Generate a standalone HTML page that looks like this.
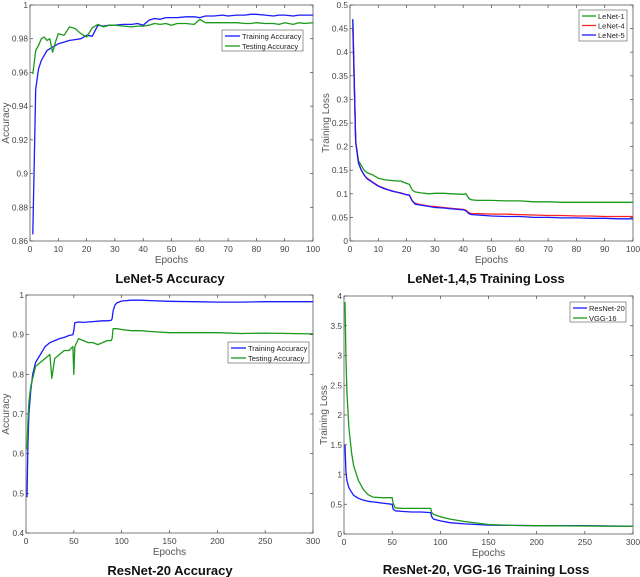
<!DOCTYPE html>
<html><head><meta charset="utf-8"><style>
body{margin:0;background:#fff;width:640px;height:577px;overflow:hidden;font-family:"Liberation Sans",sans-serif}
svg{position:absolute;left:0;top:0}
</style></head><body>
<svg id="fig" width="640" height="577"></svg>
<script>
// Panel A: LeNet-5 accuracy
const aEpochs=[1,2,3,4,5,6,7,8,9,10,12,14,16,18,20,22,24,26,28,30,33,36,38,40,42,44,46,48,50,52,55,58,60,62,65,68,70,73,76,78,80,83,86,88,90,93,95,97,100];
const aTrain=[0.864,0.95,0.962,0.967,0.970,0.973,0.974,0.975,0.976,0.977,0.978,0.979,0.9795,0.980,0.982,0.9815,0.988,0.9875,0.988,0.988,0.9885,0.9885,0.989,0.988,0.991,0.992,0.9915,0.9925,0.9925,0.9925,0.993,0.993,0.9925,0.9935,0.9935,0.994,0.9935,0.994,0.994,0.9945,0.9945,0.994,0.9935,0.994,0.994,0.9935,0.994,0.994,0.994];
const aTest=[0.959,0.973,0.976,0.980,0.981,0.979,0.980,0.972,0.978,0.983,0.982,0.987,0.986,0.983,0.981,0.9865,0.9885,0.987,0.988,0.988,0.9875,0.987,0.9875,0.9875,0.988,0.989,0.9885,0.989,0.988,0.989,0.989,0.9885,0.9915,0.9895,0.9895,0.9895,0.9895,0.9895,0.989,0.989,0.9895,0.989,0.989,0.9885,0.9895,0.9885,0.9895,0.989,0.9895];
const aYTicks=["0.86","0.88","0.9","0.92","0.94","0.96","0.98","1"];
const aXTicks=["0","10","20","30","40","50","60","70","80","90","100"];
// Panel B: LeNet losses
const bEpochs=[1,2,3,4,5,6,8,10,12,15,18,20,21,22,23,25,28,30,33,36,40,41,42,43,45,50,55,60,65,70,75,80,85,90,95,100];
const bLeNet1=[0.47,0.21,0.17,0.16,0.15,0.145,0.14,0.133,0.13,0.128,0.127,0.122,0.12,0.108,0.104,0.102,0.100,0.101,0.101,0.100,0.099,0.100,0.090,0.087,0.086,0.086,0.085,0.085,0.083,0.083,0.082,0.082,0.082,0.082,0.082,0.082];
const bLeNet4=[0.45,0.21,0.165,0.15,0.14,0.133,0.125,0.117,0.112,0.105,0.102,0.098,0.097,0.085,0.08,0.077,0.074,0.073,0.071,0.069,0.067,0.065,0.060,0.058,0.058,0.057,0.057,0.056,0.055,0.054,0.054,0.053,0.053,0.052,0.052,0.052];
const bLeNet5=[0.47,0.21,0.165,0.15,0.14,0.132,0.124,0.116,0.111,0.106,0.101,0.098,0.097,0.085,0.078,0.076,0.073,0.071,0.070,0.068,0.066,0.064,0.058,0.056,0.055,0.053,0.052,0.052,0.050,0.050,0.049,0.049,0.048,0.048,0.047,0.047];
const bYTicks=["0","0.05","0.1","0.15","0.2","0.25","0.3","0.35","0.4","0.45","0.5"];
// Panel C: ResNet-20 accuracy
const cEpochs=[1,2,3,5,7,10,15,20,25,27,30,35,40,45,49,50,51,55,60,65,70,75,80,85,89,90,91,93,95,100,110,120,130,150,175,200,225,250,275,300];
const cTrain=[0.49,0.62,0.70,0.76,0.80,0.83,0.85,0.87,0.88,0.882,0.885,0.89,0.893,0.898,0.90,0.91,0.93,0.932,0.931,0.932,0.933,0.934,0.935,0.935,0.936,0.94,0.96,0.975,0.980,0.985,0.987,0.987,0.986,0.984,0.983,0.982,0.982,0.983,0.983,0.983];
const cTest=[0.61,0.68,0.73,0.77,0.79,0.82,0.83,0.84,0.85,0.79,0.84,0.85,0.86,0.86,0.87,0.80,0.87,0.89,0.885,0.88,0.88,0.875,0.88,0.885,0.885,0.89,0.915,0.915,0.915,0.913,0.91,0.91,0.908,0.905,0.905,0.905,0.903,0.904,0.903,0.902];
const cYTicks=["0.4","0.5","0.6","0.7","0.8","0.9","1"];
const cXTicks=["0","50","100","150","200","250","300"];
// Panel D: ResNet-20 / VGG-16 loss
const dEpochs=[1,2,3,5,8,10,15,20,25,30,40,50,51,53,60,70,80,90,91,93,100,110,125,150,175,200,250,300];
const dResNet=[1.5,1.05,0.9,0.78,0.7,0.65,0.6,0.57,0.55,0.54,0.52,0.50,0.42,0.39,0.38,0.37,0.37,0.36,0.29,0.25,0.22,0.19,0.17,0.15,0.145,0.14,0.14,0.13];
const dVGG=[3.9,3.0,2.4,1.8,1.35,1.15,0.9,0.75,0.66,0.62,0.61,0.61,0.52,0.44,0.43,0.43,0.43,0.43,0.36,0.33,0.29,0.25,0.21,0.16,0.145,0.14,0.135,0.13];
const dYTicks=["0","0.5","1","1.5","2","2.5","3","3.5","4"];

const NS="http://www.w3.org/2000/svg";
const svg=document.getElementById('fig');
function mk(tag,attrs,parent,text){const e=document.createElementNS(NS,tag);for(const k in attrs)e.setAttribute(k,attrs[k]);if(text!==undefined)e.textContent=text;(parent||svg).appendChild(e);return e;}

function panel(p){
  const g=mk('g',{});
  
  
  const sx=v=>p.x0+(v-p.xmin)/(p.xmax-p.xmin)*(p.x1-p.x0);
  const sy=v=>p.y1-(v-p.ymin)/(p.ymax-p.ymin)*(p.y1-p.y0);
  const box=mk('rect',{x:p.x0,y:p.y0,width:p.x1-p.x0,height:p.y1-p.y0,fill:'#fff',stroke:'#444','stroke-width':0.7},g);
  
  
  p.yt.forEach(t=>{const v=parseFloat(t),y=sy(v);
    mk('line',{x1:p.x0,x2:p.x0+3,y1:y,y2:y,stroke:'#444','stroke-width':0.7},g);
    mk('line',{x1:p.x1,x2:p.x1-3,y1:y,y2:y,stroke:'#444','stroke-width':0.7},g);
    const tx=mk('text',{x:p.x0-2,y:y+3,'font-size':8.3,fill:'#444','text-anchor':'end'},g,t);
    
    
  });
  p.xt.forEach(t=>{const v=parseFloat(t),x=sx(v);
    mk('line',{x1:x,x2:x,y1:p.y1,y2:p.y1-3,stroke:'#444','stroke-width':0.7},g);
    mk('line',{x1:x,x2:x,y1:p.y0,y2:p.y0+3,stroke:'#444','stroke-width':0.7},g);
    const tx=mk('text',{x:x,y:p.y1+11,'font-size':8.5,fill:'#444','text-anchor':'middle'},g,t);
    
    
  });
  const xl=mk('text',{x:(p.x0+p.x1)/2,y:p.y1+22,'font-size':10,fill:'#555','text-anchor':'middle'},g,'Epochs');
  
  
  const yx=p.x0-p.ylOff, yy=(p.y0+p.y1)/2;
  const yl=mk('text',{x:yx,y:yy,'font-size':10,fill:'#555','text-anchor':'middle',transform:`rotate(-90 ${yx} ${yy})`},g,p.ylabel);
  
  
  const ti=mk('text',{x:p.tx,y:p.ty,'font-size':13,'font-weight':'bold',fill:'#111','text-anchor':'middle'},g,p.title);
  
  
  p.series.forEach(s=>{
    const n=Math.min(p.xs.length,s.v.length);
    let d='';for(let i=0;i<n;i++)d+=(i?'L':'M')+sx(p.xs[i]).toFixed(1)+','+sy(s.v[i]).toFixed(1);
    const pl=mk('path',{d:d,fill:'none',stroke:s.c,'stroke-width':1.3,'stroke-linejoin':'round'},g);
    
    
  });
  const L=p.leg;
  const lg=mk('g',{},g);
  
  
  mk('rect',{x:L.x,y:L.y,width:L.w,height:L.h,fill:'#fff',stroke:'#555','stroke-width':0.6},lg);
  p.series.forEach((s,i)=>{const yy=L.y+6+i*L.dy;
    mk('line',{x1:L.x+3,x2:L.x+L.lw,y1:yy,y2:yy,stroke:s.c,'stroke-width':1.3},lg);
    const t=mk('text',{x:L.x+L.lw+2,y:yy+3,'font-size':L.fs,fill:'#222'},lg,s.label);
    
    
  });
}
const B='#1a1aff',G='#1a9a1a',R='#ff2020';
panel({name:'lenet5-accuracy-chart',x0:30,x1:313,y0:5,y1:241,xmin:0,xmax:100,ymin:0.86,ymax:1,yt:aYTicks,xt:aXTicks,xs:aEpochs,
  series:[{v:aTrain,c:B,label:'Training Accuracy'},{v:aTest,c:G,label:'Testing Accuracy'}],ylabel:'Accuracy',ylOff:21,
  title:'LeNet-5 Accuracy',tx:170,ty:283,leg:{x:222,y:30,w:81,h:21,dy:10,lw:18,fs:7.5}});
panel({name:'lenet-loss-chart',x0:350,x1:633,y0:5,y1:241,xmin:0,xmax:100,ymin:0,ymax:0.5,yt:bYTicks,xt:aXTicks,xs:bEpochs,
  series:[{v:bLeNet1,c:G,label:'LeNet-1'},{v:bLeNet4,c:R,label:'LeNet-4'},{v:bLeNet5,c:B,label:'LeNet-5'}],ylabel:'Training Loss',ylOff:21,
  title:'LeNet-1,4,5 Training Loss',tx:486,ty:283,leg:{x:579,y:10,w:48,h:31,dy:9.5,lw:17,fs:7.5}});
panel({name:'resnet20-accuracy-chart',x0:26,x1:313,y0:295,y1:533,xmin:0,xmax:300,ymin:0.4,ymax:1,yt:cYTicks,xt:cXTicks,xs:cEpochs,
  series:[{v:cTrain,c:B,label:'Training Accuracy'},{v:cTest,c:G,label:'Testing Accuracy'}],ylabel:'Accuracy',ylOff:17,
  title:'ResNet-20 Accuracy',tx:170,ty:575,leg:{x:228,y:342,w:81,h:21,dy:10,lw:18,fs:7.5}});
panel({name:'resnet-vgg-loss-chart',x0:344,x1:633,y0:296,y1:534,xmin:0,xmax:300,ymin:0,ymax:4,yt:dYTicks,xt:cXTicks,xs:dEpochs,
  series:[{v:dResNet,c:B,label:'ResNet-20'},{v:dVGG,c:G,label:'VGG-16'}],ylabel:'Training Loss',ylOff:17,
  title:'ResNet-20, VGG-16 Training Loss',tx:486,ty:574,leg:{x:570,y:302,w:56,h:20,dy:10,lw:17,fs:7.5}});
</script>
</body></html>
